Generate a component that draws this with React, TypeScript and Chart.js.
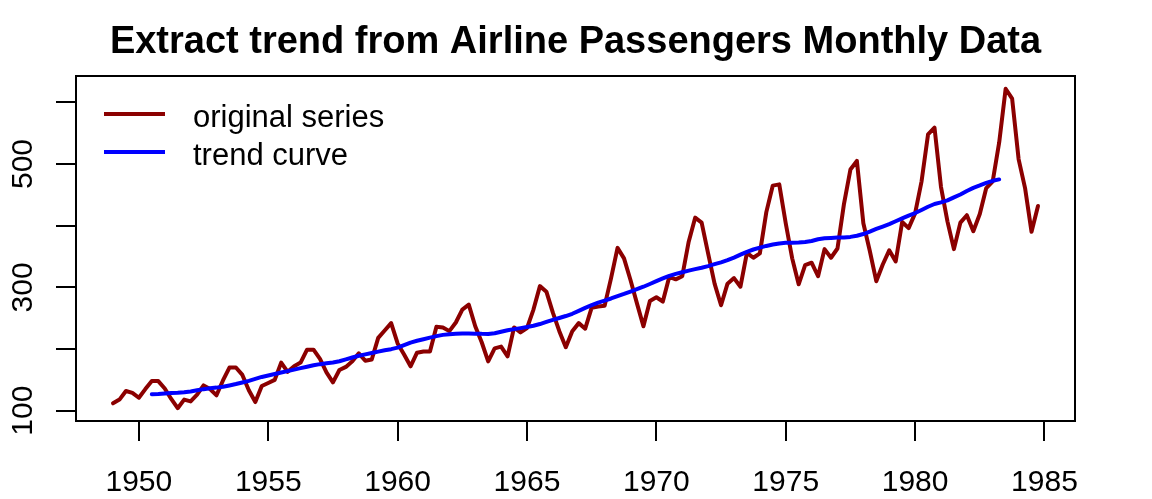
import React, { useEffect, useRef } from "react";
import { Chart, registerables } from "chart.js";

Chart.register(...registerables);

// AirPassengers series plotted as a quarterly-indexed time series
const startYear = 1949;
const frequency = 4;

const passengers = [
  112, 118, 132, 129, 121, 135, 148, 148, 136, 119, 104, 118,
  115, 126, 141, 135, 125, 149, 170, 170, 158, 133, 114, 140,
  145, 150, 178, 163, 172, 178, 199, 199, 184, 162, 146, 166,
  171, 180, 193, 181, 183, 218, 230, 242, 209, 191, 172, 194,
  196, 196, 236, 235, 229, 243, 264, 272, 237, 211, 180, 201,
  204, 188, 235, 227, 234, 264, 302, 293, 259, 229, 203, 229,
  242, 233, 267, 269, 270, 315, 364, 347, 312, 274, 237, 278,
  284, 277, 317, 313, 318, 374, 413, 405, 355, 306, 271, 306,
  315, 301, 356, 348, 355, 422, 465, 467, 404, 347, 305, 336,
  340, 318, 362, 348, 363, 435, 491, 505, 404, 359, 310, 337,
  360, 342, 406, 396, 420, 472, 548, 559, 463, 407, 362, 405,
  417, 391, 419, 461, 472, 535, 622, 606, 508, 461, 390, 432,
];

// centred moving-average trend (starts at series index 6)
const trendStartIndex = 6;
const trendValues = [
  126.79, 127.25, 127.96, 128.58, 129.0, 129.75,
  131.25, 133.08, 134.92, 136.42, 137.42, 138.75, 140.92, 143.17, 145.71, 148.42, 151.54, 154.71,
  157.13, 159.54, 161.83, 164.13, 166.67, 169.08, 171.25, 173.58, 175.46, 176.83, 178.04, 180.17,
  183.13, 186.21, 189.04, 191.29, 193.58, 195.83, 198.04, 199.75, 202.21, 206.25, 210.42, 213.38,
  215.83, 218.5, 220.92, 222.92, 224.08, 224.71, 225.33, 225.33, 224.96, 224.58, 224.46, 225.54,
  228.0, 230.46, 232.25, 233.92, 235.63, 237.75, 240.5, 243.96, 247.17, 250.25, 253.5, 257.13,
  261.83, 266.67, 271.13, 275.21, 278.5, 281.96, 285.75, 289.33, 293.25, 297.17, 301.0, 305.46,
  309.96, 314.42, 318.63, 321.75, 324.5, 327.08, 329.54, 331.83, 334.46, 337.54, 340.54, 344.08,
  348.25, 353.0, 357.63, 361.38, 364.5, 367.17, 369.46, 371.21, 372.17, 372.42, 372.75, 373.63,
  375.25, 377.92, 379.5, 380.0, 380.71, 380.96, 381.83, 383.67, 386.5, 390.33, 394.71, 398.63,
  402.54, 407.17, 411.88, 416.33, 420.5, 425.5, 430.71, 435.13, 437.71, 440.96, 445.83, 450.63,
  456.33, 461.38, 465.21, 469.33, 472.75, 475.04,
];

const xTicks = [1950, 1955, 1960, 1965, 1970, 1975, 1980, 1985];
const yTicks = [100, 200, 300, 400, 500, 600];
const yTickLabels = [100, 300, 500];

const titleText = "Extract trend from Airline Passengers Monthly Data";
const legendLabels = ["original series", "trend curve"];
const seriesColors = ["#8B0000", "#0000FF"];

const xMin = 1947.57;
const xMax = 1986.18;
const yMin = 83.28;
const yMax = 642.72;

const FONT = '"Liberation Sans", Arial, sans-serif';

const rFramePlugin = {
  id: "rFrame",
  afterDraw(chart: any) {
    const ctx = chart.ctx as CanvasRenderingContext2D;
    const { left, right, top, bottom } = chart.chartArea;
    const xs = chart.scales.x;
    const ys = chart.scales.y;
    ctx.save();
    ctx.strokeStyle = "#000";
    ctx.fillStyle = "#000";
    ctx.lineWidth = 2;
    ctx.lineCap = "butt";
    // box
    ctx.strokeRect(left, top, right - left, bottom - top);
    // x ticks
    ctx.beginPath();
    xTicks.forEach((t) => {
      const px = Math.round(xs.getPixelForValue(t));
      ctx.moveTo(px, bottom);
      ctx.lineTo(px, bottom + 20);
    });
    // y ticks
    yTicks.forEach((t) => {
      const py = Math.round(ys.getPixelForValue(t));
      ctx.moveTo(left, py);
      ctx.lineTo(left - 20, py);
    });
    ctx.stroke();
    // x labels
    ctx.font = `30px ${FONT}`;
    ctx.textAlign = "center";
    ctx.textBaseline = "alphabetic";
    xTicks.forEach((t) => {
      const px = xs.getPixelForValue(t);
      ctx.fillText(String(t), px, 491);
    });
    // y labels (rotated)
    yTickLabels.forEach((t) => {
      const py = ys.getPixelForValue(t);
      ctx.save();
      ctx.translate(32, py);
      ctx.rotate(-Math.PI / 2);
      ctx.textAlign = "center";
      ctx.fillText(String(t), 0, 0);
      ctx.restore();
    });
    // title
    ctx.font = `bold 38px ${FONT}`;
    ctx.textAlign = "center";
    ctx.fillText(titleText, (left + right) / 2, 53);
    // legend
    ctx.font = `31px ${FONT}`;
    ctx.textAlign = "left";
    legendLabels.forEach((lab, i) => {
      const y = 114 + i * 38;
      ctx.strokeStyle = seriesColors[i];
      ctx.lineWidth = 4;
      ctx.beginPath();
      ctx.moveTo(104, y);
      ctx.lineTo(165, y);
      ctx.stroke();
      ctx.fillStyle = "#000";
      ctx.fillText(lab, 193, y + 12.5);
    });
    ctx.restore();
  },
};

export default function App() {
  const canvasRef = useRef<HTMLCanvasElement>(null);

  useEffect(() => {
    const canvas = canvasRef.current;
    if (!canvas) return;
    const original = passengers.map((v, i) => ({ x: startYear + i / frequency, y: v }));
    const trend = trendValues.map((v, i) => ({
      x: startYear + (i + trendStartIndex) / frequency,
      y: v,
    }));
    const chart = new Chart(canvas, {
      type: "line",
      data: {
        datasets: [
          {
            label: legendLabels[0],
            data: original,
            borderColor: seriesColors[0],
            borderWidth: 4,
            pointRadius: 0,
            tension: 0,
            borderJoinStyle: "round",
            borderCapStyle: "round",
            order: 1,
          },
          {
            label: legendLabels[1],
            data: trend,
            borderColor: seriesColors[1],
            borderWidth: 4,
            pointRadius: 0,
            tension: 0,
            borderJoinStyle: "round",
            borderCapStyle: "round",
            order: 0,
          },
        ],
      },
      options: {
        responsive: false,
        animation: false,
        layout: { padding: { left: 76, right: 77, top: 76, bottom: 78 } },
        plugins: {
          legend: { display: false },
          title: { display: false },
          tooltip: { enabled: false },
        },
        scales: {
          x: { type: "linear", min: xMin, max: xMax, display: false },
          y: { type: "linear", min: yMin, max: yMax, display: false },
        },
      },
      plugins: [rFramePlugin],
    });
    return () => chart.destroy();
  }, []);

  return (
    <div style={{ position: "fixed", left: 0, top: 0, width: 1152, height: 499, background: "#fff" }}>
      <canvas ref={canvasRef} width={1152} height={499} style={{ width: 1152, height: 499, display: "block" }} />
    </div>
  );
}
